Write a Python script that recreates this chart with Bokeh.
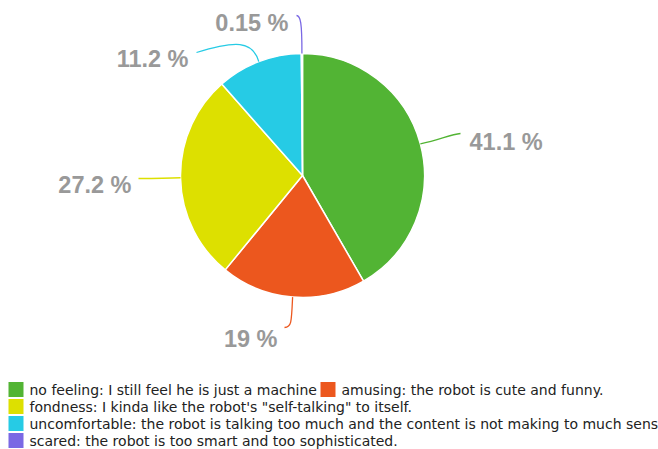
import math
from bokeh.plotting import figure
from bokeh.models import Range1d
from bokeh.embed import file_html
from bokeh.resources import INLINE
from bokeh.core.properties import value

# ---- data ----
categories = [
    "no feeling: I still feel he is just a machine",
    "amusing: the robot is cute and funny.",
    "fondness: I kinda like the robot's \"self-talking\" to itself.",
    "uncomfortable: the robot is talking too much and the content is not making to much sense.",
    "scared: the robot is too smart and too sophisticated.",
]
percents = [41.1, 19, 27.2, 11.2, 0.15]
label_texts = ["41.1 %", "19 %", "27.2 %", "11.2 %", "0.15 %"]

# ---- styles / layout ----
colors = ["#52b434", "#ec571e", "#dde000", "#26cbe5", "#7a68e4"]
W, H = 658, 449
CX, CY, R = 302, 175, 122

p = figure(width=W, height=H, output_backend="svg", toolbar_location=None,
           x_range=Range1d(0, W), y_range=Range1d(-H, 0),
           min_border=0)
p.axis.visible = False
p.grid.visible = False
p.outline_line_color = None
p.background_fill_color = "white"
p.border_fill_color = "white"

total = sum(percents)
cum = 0.0
starts, ends, mids = [], [], []
for v in percents:
    t1 = cum / total * 360.0
    cum += v
    t2 = cum / total * 360.0
    starts.append(t1)
    ends.append(t2)
    mids.append((t1 + t2) / 2)

# wedges (clockwise from top)
p.wedge(x=[CX] * len(percents), y=[-CY] * len(percents), radius=R,
        start_angle=[math.radians(90 - e) for e in ends],
        end_angle=[math.radians(90 - s) for s in starts],
        fill_color=colors, line_color="white", line_width=1.5)

# leader lines: start at slice edge (mid angle), end near label
edge = [(CX + R * math.sin(math.radians(m)), CY - R * math.cos(math.radians(m))) for m in mids]
leader = [  # c0, c1, end  (pixel coordinates)
    ((440, 139), (450, 134), (460, 133)),
    ((291, 322), (291, 327), (284, 327)),
    ((165, 178), (150, 178), (138, 178)),
    ((252, 40), (235, 40), (196, 52)),
    ((301.5, 22), (300, 15), (296, 15)),
]
p.bezier(x0=[e[0] for e in edge], y0=[-e[1] for e in edge],
         cx0=[l[0][0] for l in leader], cy0=[-l[0][1] for l in leader],
         cx1=[l[1][0] for l in leader], cy1=[-l[1][1] for l in leader],
         x1=[l[2][0] for l in leader], y1=[-l[2][1] for l in leader],
         line_color=colors, line_width=1.3)

label_pos = [(469, 141, "left"), (277, 338, "right"), (131, 184, "right"),
             (188, 58, "right"), (288, 22, "right")]
for txt, (lx, ly, al) in zip(label_texts, label_pos):
    p.text(x=[lx], y=[-ly], text=[txt], text_align=al, text_baseline="middle",
           text_font=value("Liberation Sans"), text_font_size="23.5px",
           text_font_style="bold", text_color="#999999")

# legend
row_of = [0, 0, 1, 2, 3]
col_x = [8, 320]
col_of = [0, 1, 0, 0, 0]
row_y0, row_dy = 389, 17
sq = 15
for i, cat in enumerate(categories):
    x0 = col_x[col_of[i]]
    yy = row_y0 + row_dy * row_of[i]
    p.rect(x=[x0 + sq / 2], y=[-yy], width=sq, height=sq, fill_color=colors[i], line_color=None)
    p.text(x=[x0 + 21], y=[-yy], text=[cat], text_align="left", text_baseline="middle",
           text_font=value("DejaVu Sans"), text_font_size="14px", text_color="#222222")

open("out.html", "w").write(file_html(p, INLINE))
